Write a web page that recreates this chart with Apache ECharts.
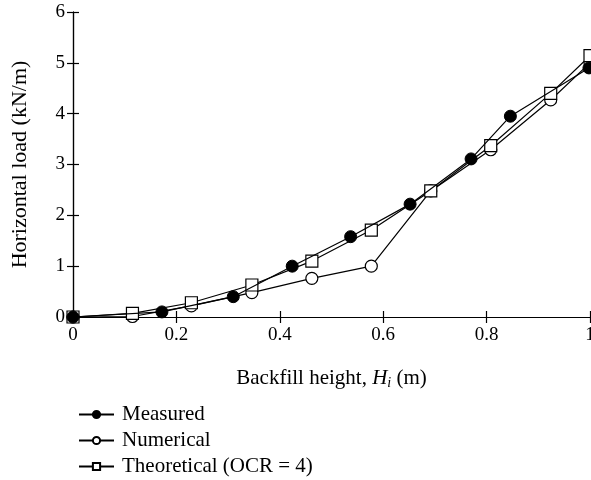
<!DOCTYPE html>
<html>
<head>
<meta charset="utf-8">
<script src="https://cdn.jsdelivr.net/npm/echarts@6/dist/echarts.min.js"></script>
<style>
  html, body { margin: 0; padding: 0; background: #fff; }
  #chart { width: 591px; height: 480px; }
</style>
</head>
<body>
<div id="chart"></div>
<script>
// Backfill height (m) vs horizontal load (kN/m)
const measuredX = [0, 0.172, 0.31, 0.424, 0.537, 0.652, 0.770, 0.846, 0.998];
const measuredY = [0, 0.10, 0.40, 1.00, 1.58, 2.22, 3.11, 3.95, 4.90];

const numericalX = [0, 0.115, 0.229, 0.346, 0.462, 0.577, 0.692, 0.808, 0.924, 1.0];
const numericalY = [0, 0.01, 0.22, 0.48, 0.76, 1.00, 2.48, 3.29, 4.27, 5.00];

const theoreticalX = [0, 0.115, 0.229, 0.346, 0.462, 0.577, 0.692, 0.808, 0.924, 1.0];
const theoreticalY = [0, 0.07, 0.28, 0.63, 1.10, 1.71, 2.48, 3.37, 4.40, 5.14];

const xTicks = [0, 0.2, 0.4, 0.6, 0.8, 1];
const yTicks = [0, 1, 2, 3, 4, 5, 6];

const FONT = '"Liberation Serif", "DejaVu Serif", serif';

const zip = (xs, ys) => xs.map((x, i) => [x, ys[i]]);

const chart = echarts.init(document.getElementById('chart'));

const axisLine = { show: true, lineStyle: { color: '#000', width: 1.2 } };
const tick = { show: true, inside: true, length: 6, lineStyle: { color: '#000', width: 1.2 } };

const option = {
  animation: false,
  backgroundColor: '#fff',
  textStyle: { fontFamily: FONT, color: '#000' },
  grid: { left: 73, right: 1, top: 12, bottom: 163, outerBoundsMode: 'none' },
  legend: {
    orient: 'vertical',
    left: 73,
    top: 399,
    height: 80,
    itemWidth: 35,
    itemHeight: 9,
    itemGap: 5,
    textStyle: { fontFamily: FONT, fontSize: 21, color: '#000', padding: [0, 0, 0, 3] },
    data: ['Measured', 'Numerical', 'Theoretical (OCR = 4)']
  },
  xAxis: [{
    type: 'value',
    min: 0, max: 1, interval: 0.2,
    name: '{a|Backfill height, }{i|H}{s|i}{a| (m)}',
    nameLocation: 'middle',
    nameGap: 49,
    nameTextStyle: {
      rich: {
        a: { fontFamily: FONT, fontSize: 21, color: '#000' },
        i: { fontFamily: FONT, fontSize: 21, fontStyle: 'italic', color: '#000' },
        s: { fontFamily: FONT, fontSize: 14, fontStyle: 'italic', color: '#000', padding: [10, 0, 0, 0] }
      }
    },
    axisLine: axisLine,
    axisTick: tick,
    splitLine: { show: false },
    axisLabel: {
      fontFamily: FONT, fontSize: 19, color: '#000', margin: 9,
      formatter: v => xTicks.includes(+v.toFixed(1)) ? String(+v.toFixed(1)) : ''
    }
  }, {
    type: 'value', position: 'top',
    min: 0, max: 1, interval: 0.2,
    axisLine: axisLine, axisTick: tick,
    splitLine: { show: false }, axisLabel: { show: false }
  }],
  yAxis: [{
    type: 'value',
    min: 0, max: 6, interval: 1,
    name: 'Horizontal load (kN/m)',
    nameLocation: 'middle',
    nameGap: 42,
    nameTextStyle: { fontFamily: FONT, fontSize: 22, color: '#000' },
    axisLine: axisLine,
    axisTick: tick,
    splitLine: { show: false },
    axisLabel: {
      fontFamily: FONT, fontSize: 19, color: '#000', margin: 8,
      formatter: v => yTicks.includes(v) ? String(v) : ''
    }
  }, {
    type: 'value', position: 'right',
    min: 0, max: 6, interval: 1,
    axisLine: axisLine, axisTick: tick,
    splitLine: { show: false }, axisLabel: { show: false }
  }],
  series: [{
    name: 'Measured',
    type: 'line',
    data: zip(measuredX, measuredY),
    symbol: 'circle',
    symbolSize: 12,
    clip: false,
    z: 4,
    lineStyle: { color: '#000', width: 1.2 },
    itemStyle: { color: '#000', borderColor: '#000', borderWidth: 1 }
  }, {
    name: 'Numerical',
    type: 'line',
    data: zip(numericalX, numericalY),
    symbol: 'circle',
    symbolSize: 12,
    clip: false,
    z: 2,
    lineStyle: { color: '#000', width: 1.2 },
    itemStyle: { color: '#fff', borderColor: '#000', borderWidth: 1.2 }
  }, {
    name: 'Theoretical (OCR = 4)',
    type: 'line',
    data: zip(theoreticalX, theoreticalY),
    symbol: 'rect',
    symbolSize: 12,
    clip: false,
    z: 3,
    lineStyle: { color: '#000', width: 1.2 },
    itemStyle: { color: '#fff', borderColor: '#000', borderWidth: 1.2 }
  }]
};

chart.setOption(option);
</script>
</body>
</html>
